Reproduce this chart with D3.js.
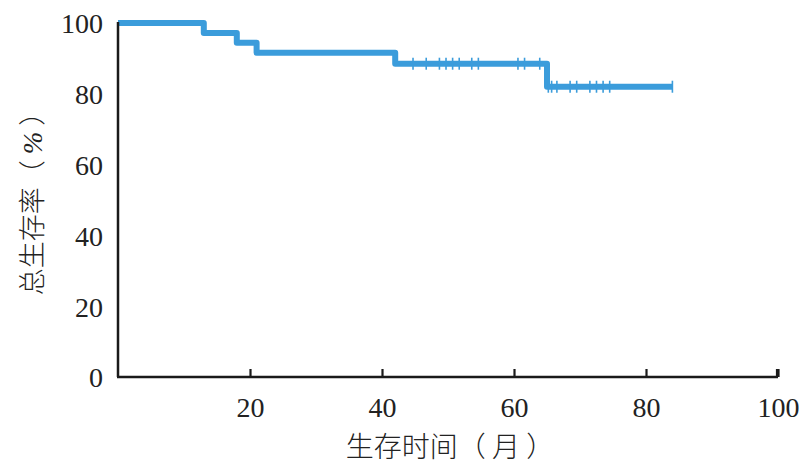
<!DOCTYPE html>
<html><head><meta charset="utf-8">
<script src="https://cdn.jsdelivr.net/npm/d3@7"></script>
<style>body{margin:0;background:#fff;}svg{display:block;}</style>
</head><body>
<svg id="c" width="799" height="474"></svg>
<script>
const eventTimes = [0, 13, 18, 21, 42, 65];
const survival = [100, 97.2, 94.4, 91.6, 88.5, 82.0];
const censorTimes = [44.7, 46.7, 48.7, 49.7, 50.7, 51.7, 53.6, 54.6, 60.6, 61.6, 63.9,
                     65.2, 65.7, 66.5, 68.5, 69.5, 71.5, 72.5, 73.5, 74.5, 84];
const endTime = 84;
const xTicks = [20, 40, 60, 80, 100];
const yTicks = [0, 20, 40, 60, 80, 100];

const svg = d3.select("#c");
const x = d3.scaleLinear().domain([0, 100]).range([118, 778]);
const y = d3.scaleLinear().domain([0, 100]).range([377, 23]);
const blue = "#3b9cdb";
const numFont = "'Liberation Serif','DejaVu Serif',serif";
const cjkFont = "'Noto Sans CJK SC',sans-serif";

function survAt(t){ let s = survival[0]; eventTimes.forEach((e,i)=>{ if (t >= e) s = survival[i]; }); return s; }

// curve
const pts = [];
eventTimes.forEach((t,i)=>{
  if (i>0) pts.push([t, survival[i-1]]);
  pts.push([t, survival[i]]);
});
pts.push([endTime, survival[survival.length-1]]);
svg.append("path")
  .attr("d", d3.line().x(d=>x(d[0])).y(d=>y(d[1]))(pts))
  .attr("fill","none").attr("stroke",blue).attr("stroke-width",6)
  .attr("stroke-linejoin","round");

svg.selectAll(".cen").data(censorTimes).enter().append("line")
  .attr("x1",d=>x(d)).attr("x2",d=>x(d))
  .attr("y1",d=>y(survAt(d))-6).attr("y2",d=>y(survAt(d))+6)
  .attr("stroke",blue).attr("stroke-width",1.6);

// axes
const gx = svg.append("g").attr("transform","translate(0,377)")
  .call(d3.axisBottom(x).tickValues(xTicks).tickSizeInner(-8).tickSizeOuter(0).tickPadding(20));
gx.select(".domain").attr("stroke","#1a1a1a").attr("stroke-width",2.5).attr("d","M117,0H778");
gx.selectAll(".tick line").attr("stroke","#1a1a1a").attr("stroke-width",2.2);
gx.selectAll("text").attr("font-family",numFont).attr("font-size",28).attr("fill","#222").attr("dy","0.72em");
svg.append("line").attr("x1",777).attr("x2",777).attr("y1",369).attr("y2",377).attr("stroke","#1a1a1a").attr("stroke-width",2.2);

const gy = svg.append("g").attr("transform","translate(118,0)")
  .call(d3.axisLeft(y).tickValues(yTicks).tickSize(0).tickPadding(15));
gy.select(".domain").attr("stroke","#1a1a1a").attr("stroke-width",2.5).attr("d","M0,377V22");
gy.selectAll("text").attr("font-family",numFont).attr("font-size",28).attr("fill","#222").attr("dy","0.35em");

svg.append("text").attr("x",450).attr("y",457).attr("text-anchor","middle")
  .attr("font-family",cjkFont).attr("font-weight",300).attr("font-size",28).attr("fill","#222")
  .attr("xml:space","preserve").style("white-space","pre")
  .text("生存时间（ 月 ）");
const yt = svg.append("text").attr("transform","translate(42,197) rotate(-90)").attr("text-anchor","middle")
  .attr("font-family",cjkFont).attr("font-weight",300).attr("font-size",27).attr("fill","#222")
  .style("white-space","pre");
yt.append("tspan").text("总生存率（ ");
yt.append("tspan").attr("font-family",numFont).attr("font-style","italic").text("%");
yt.append("tspan").text(" ）");
</script>
</body></html>
